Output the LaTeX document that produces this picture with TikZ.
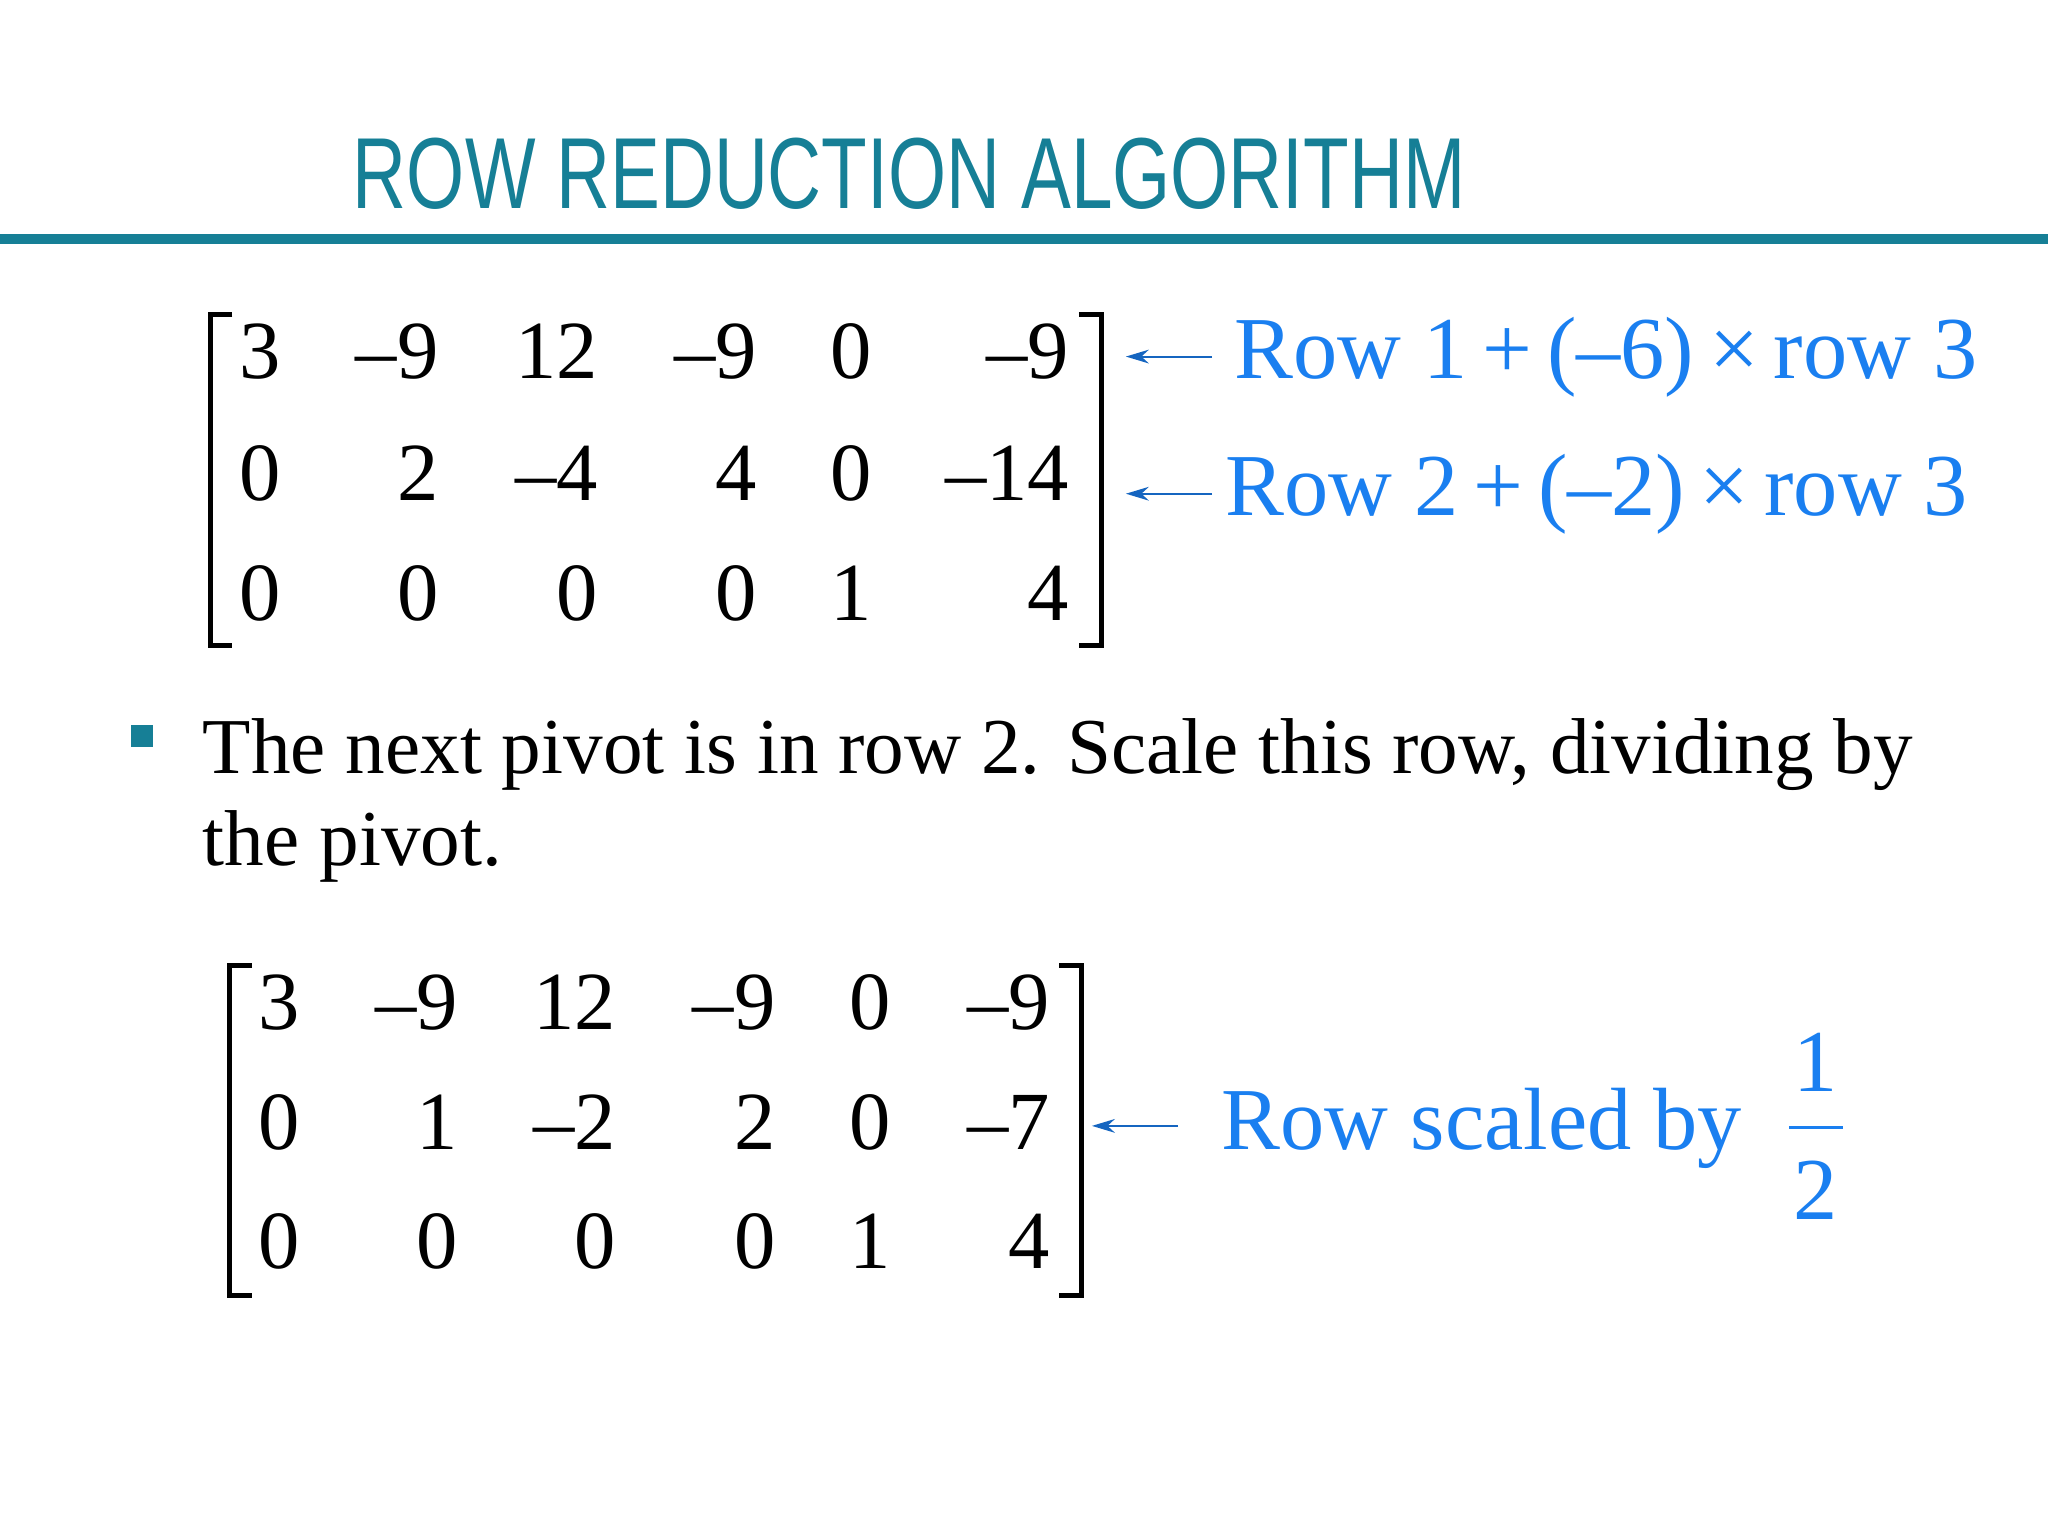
\documentclass[tikz,border=0pt]{standalone}
\usepackage{fontspec}
\setmainfont{Liberation Serif}
\newfontfamily\titlefont{Liberation Sans}
\usetikzlibrary{arrows.meta}
\definecolor{teal1}{HTML}{167F96}
\definecolor{blue1}{HTML}{1A7FF0}
\begin{document}
\begin{tikzpicture}[x=0.02cm,y=-0.02cm,
  ent/.style={anchor=base east,inner sep=0,font=\fontsize{36}{40}\selectfont},
  ann/.style={anchor=base west,inner sep=0,text=blue1,font=\fontsize{38.5}{44}\selectfont},
  brk/.style={line width=2.2pt},
  arr/.style={-{Stealth[length=10pt,width=6pt]},blue1!80!black,line width=0.9pt},
  body/.style={anchor=base west,inner sep=0,font=\fontsize{34.5}{40}\selectfont}]
\useasboundingbox (0,0) rectangle (1568,1176);
\node[anchor=base west,inner sep=0,text=teal1,font=\titlefont\fontsize{44}{48}\selectfont,xscale=0.74] (title) at (270,160) {ROW REDUCTION ALGORITHM};
\fill[teal1] (0,179) rectangle (1568,187);
% matrix 1
\draw[brk] (178,241) -- (161,241) -- (161,494) -- (178,494);
\draw[brk] (826,241) -- (843,241) -- (843,494) -- (826,494);
\node[ent] (m11) at (215,290) {3};
\node[ent] (m12) at (336,290) {–9};
\node[ent] (m13) at (458,290) {12};
\node[ent] (m14) at (580,290) {–9};
\node[ent] (m15) at (668,290) {0};
\node[ent] (m16) at (819,290) {–9};
\node[ent] (m21) at (215,383) {0};
\node[ent] (m22) at (336,383) {2};
\node[ent] (m23) at (458,383) {–4};
\node[ent] (m24) at (580,383) {4};
\node[ent] (m25) at (668,383) {0};
\node[ent] (m26) at (819,383) {–14};
\node[ent] (m31) at (215,475) {0};
\node[ent] (m32) at (336,475) {0};
\node[ent] (m33) at (458,475) {0};
\node[ent] (m34) at (580,475) {0};
\node[ent] (m35) at (668,475) {1};
\node[ent] (m36) at (819,475) {4};
\coordinate (a1s) at (928,273); \coordinate (a1e) at (862,273);
\coordinate (a2s) at (928,378); \coordinate (a2e) at (862,378);
\draw[arr] (a1s) -- (a1e);
\draw[arr] (a2s) -- (a2e);
\node[ann] (t1) at (945,290) {Row 1\,+\,(–6)\,×\,row 3};
\node[ann] (t2) at (938,395) {Row 2\,+\,(–2)\,×\,row 3};
% bullet
\fill[teal1] (100,555) rectangle (117,572);
\node[body] (b1) at (155,592) {The next pivot is in row 2. Scale this row, dividing by};
\node[body] (b2) at (155,663) {the pivot.};
% matrix 2
\draw[brk] (193,739) -- (176,739) -- (176,992) -- (193,992);
\draw[brk] (811,739) -- (828,739) -- (828,992) -- (811,992);
\node[ent] (n11) at (230,788) {3};
\node[ent] (n12) at (351,788) {–9};
\node[ent] (n13) at (472,788) {12};
\node[ent] (n14) at (594,788) {–9};
\node[ent] (n15) at (682,788) {0};
\node[ent] (n16) at (804,788) {–9};
\node[ent] (n21) at (230,880) {0};
\node[ent] (n22) at (351,880) {1};
\node[ent] (n23) at (472,880) {–2};
\node[ent] (n24) at (594,880) {2};
\node[ent] (n25) at (682,880) {0};
\node[ent] (n26) at (804,880) {–7};
\node[ent] (n31) at (230,971) {0};
\node[ent] (n32) at (351,971) {0};
\node[ent] (n33) at (472,971) {0};
\node[ent] (n34) at (594,971) {0};
\node[ent] (n35) at (682,971) {1};
\node[ent] (n36) at (804,971) {4};
\coordinate (a3s) at (902,862); \coordinate (a3e) at (836,862);
\draw[arr] (a3s) -- (a3e);
\node[ann] (t3) at (935,880) {Row scaled by};
\node[ann,anchor=base] (f1) at (1390,836) {1};
\draw[blue1,line width=1.4pt] (1370,863) -- (1411,863);
\node[ann,anchor=base] (f2) at (1390,934) {2};
\end{tikzpicture}
\end{document}
